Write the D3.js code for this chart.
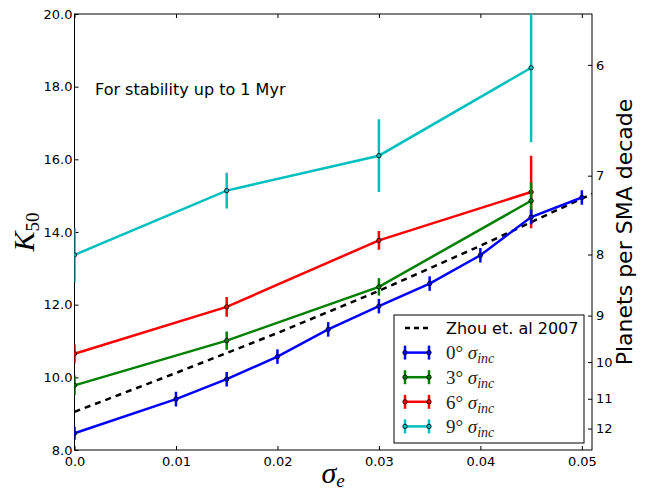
<!DOCTYPE html>
<html>
<head>
<meta charset="utf-8">
<script src="https://cdn.jsdelivr.net/npm/d3@7"></script>
<style>
  body { margin: 0; background: #fff; }
  svg { display: block; font-family: "DejaVu Sans", sans-serif; }
</style>
</head>
<body>
<div id="chart"></div>
<script>
// sigma_e sampled for the 0 deg run, and the coarser grid for the others
const eccFine = [0, 0.01, 0.015, 0.02, 0.025, 0.03, 0.035, 0.04, 0.045, 0.05];
const eccCoarse = [0, 0.015, 0.03, 0.045];

// K50 values and error half-widths
const k0 = [8.46, 9.40, 9.95, 10.57, 11.32, 11.96, 12.58, 13.36, 14.41, 14.95];
const err0 = [0.18, 0.2, 0.2, 0.2, 0.2, 0.2, 0.2, 0.2, 0.2, 0.2];
const k3 = [9.78, 11.01, 12.49, 14.86];
const err3 = [0.27, 0.25, 0.24, 0.5];
const k6 = [10.65, 11.94, 13.77, 15.10];
const err6 = [0.26, 0.27, 0.26, 1.0];
const k9 = [13.37, 15.14, 16.10, 18.52];
const err9 = [0.75, 0.49, 1.0, 2.05];

// Zhou et al. 2007 curve
const zhouEcc = [0, 0.01, 0.02, 0.03, 0.04, 0.05, 0.051];
const zhouK = [9.05, 10.12, 11.22, 12.38, 13.62, 14.92, 15.05];

// ticks
const xTicks = [0, 0.01, 0.02, 0.03, 0.04, 0.05];
const yTicks = [8, 10, 12, 14, 16, 18, 20];
// right axis: planets per SMA decade, placed at the K50 they correspond to
const planetTicks = [6, 7, 8, 9, 10, 11, 12];
const planetTickK = [18.60, 15.55, 13.38, 11.70, 10.42, 9.41, 8.59];

const series = [
  { deg: 0, x: eccFine, k: k0, err: err0, color: "#0000ff" },
  { deg: 3, x: eccCoarse, k: k3, err: err3, color: "#008000" },
  { deg: 6, x: eccCoarse, k: k6, err: err6, color: "#ff0000" },
  { deg: 9, x: eccCoarse, k: k9, err: err9, color: "#00bfbf" }
];

const W = 649, H = 493;
const margin = { top: 14, right: 57, bottom: 43, left: 74.5 };
const width = W - margin.left - margin.right,
      height = H - margin.top - margin.bottom;

const svg = d3.select("#chart").append("svg")
  .attr("width", W).attr("height", H);

svg.append("defs").append("clipPath").attr("id", "plotclip")
  .append("rect").attr("width", width).attr("height", height);

const g = svg.append("g")
  .attr("transform", `translate(${margin.left},${margin.top})`);

const x = d3.scaleLinear().domain([0, 0.051]).range([0, width]);
const y = d3.scaleLinear().domain([8, 20]).range([height, 0]);

// axes (ticks point inward, like old matplotlib)
const xFmt = d => d === 0 ? "0.0" : d.toFixed(2);
g.append("g")
  .attr("transform", `translate(0,${height})`)
  .call(d3.axisBottom(x).tickValues(xTicks).tickFormat(xFmt)
    .tickSizeInner(-4).tickSizeOuter(0).tickPadding(7));
g.append("g")
  .call(d3.axisTop(x).tickValues(xTicks).tickFormat("")
    .tickSizeInner(-4).tickSizeOuter(0));
g.append("g")
  .call(d3.axisLeft(y).tickValues(yTicks).tickFormat(d3.format(".1f"))
    .tickSizeInner(-4).tickSizeOuter(0).tickPadding(2));
g.append("g")
  .attr("transform", `translate(${width},0)`)
  .call(d3.axisRight(y).tickValues(planetTickK)
    .tickFormat((d, i) => planetTicks[i])
    .tickSizeInner(-4).tickSizeOuter(0).tickPadding(4));

g.selectAll(".domain").remove();
g.selectAll(".tick text").attr("font-size", 13).attr("fill", "#000")
  .attr("font-family", "DejaVu Sans");
g.selectAll(".tick line").attr("stroke", "#000");

// spines
g.append("rect")
  .attr("width", width).attr("height", height)
  .attr("fill", "none").attr("stroke", "#000").attr("stroke-width", 1);

const plot = g.append("g").attr("clip-path", "url(#plotclip)");

// Zhou line
const line = d3.line().x(d => x(d[0])).y(d => y(d[1]));
plot.append("path")
  .datum(zhouEcc.map((e, i) => [e, zhouK[i]]))
  .attr("d", line)
  .attr("fill", "none").attr("stroke", "#000")
  .attr("stroke-width", 2.5).attr("stroke-dasharray", "6,5");

// data series, drawn so the 0 deg run ends up on top
series.slice().reverse().forEach(s => {
  const pts = s.x.map((e, i) => ({ e, k: s.k[i], err: s.err[i] }));
  const sg = plot.append("g");
  sg.append("path")
    .datum(pts.map(p => [p.e, p.k]))
    .attr("d", line)
    .attr("fill", "none").attr("stroke", s.color).attr("stroke-width", 2.5);
  sg.selectAll("line.err").data(pts).join("line")
    .attr("class", "err")
    .attr("x1", p => x(p.e)).attr("x2", p => x(p.e))
    .attr("y1", p => y(p.k - p.err)).attr("y2", p => y(p.k + p.err))
    .attr("stroke", s.color).attr("stroke-width", 2.5);
  sg.selectAll("circle").data(pts).join("circle")
    .attr("cx", p => x(p.e)).attr("cy", p => y(p.k))
    .attr("r", 2.2)
    .attr("fill", s.color).attr("stroke", "#000").attr("stroke-width", 0.8);
});

// annotation
g.append("text")
  .attr("x", 95 - margin.left).attr("y", 95 - margin.top)
  .attr("font-size", 16)
  .text("For stability up to 1 Myr");

// axis labels (math text in a serif face)
const serif = "'Liberation Serif', 'DejaVu Serif', serif";
const yLab = svg.append("text")
  .attr("transform", "translate(34,232) rotate(-90)")
  .attr("text-anchor", "middle")
  .style("font-family", serif).attr("font-size", 30);
yLab.append("tspan").attr("font-style", "italic").text("K");
yLab.append("tspan").attr("font-size", 19).attr("dy", 5).text("50");

const xLab = svg.append("text")
  .attr("x", 333).attr("y", 483)
  .attr("text-anchor", "middle")
  .style("font-family", serif).attr("font-size", 30).attr("font-style", "italic");
xLab.append("tspan").text("σ");
xLab.append("tspan").attr("font-size", 19).attr("dy", 4).text("e");

svg.append("text")
  .attr("transform", "translate(632,232) rotate(-90)")
  .attr("text-anchor", "middle")
  .attr("font-size", 22)
  .text("Planets per SMA decade");

// legend
const lg = svg.append("g").attr("transform", "translate(394,315)");
lg.append("rect").attr("width", 190).attr("height", 128)
  .attr("fill", "#fff").attr("stroke", "#000").attr("stroke-width", 1);

const rowY = i => 13 + i * 24.6;
lg.append("line")
  .attr("x1", 11).attr("x2", 35).attr("y1", rowY(0)).attr("y2", rowY(0))
  .attr("stroke", "#000").attr("stroke-width", 2.5).attr("stroke-dasharray", "5,4");
lg.append("text").attr("x", 52).attr("y", rowY(0)).attr("dy", "0.36em")
  .attr("font-size", 16).text("Zhou et. al 2007");

series.forEach((s, i) => {
  const ry = rowY(i + 1);
  const row = lg.append("g");
  row.append("line").attr("x1", 11).attr("x2", 35).attr("y1", ry).attr("y2", ry)
    .attr("stroke", s.color).attr("stroke-width", 2.5);
  [11, 35].forEach(hx => {
    row.append("line").attr("x1", hx).attr("x2", hx)
      .attr("y1", ry - 7).attr("y2", ry + 7)
      .attr("stroke", s.color).attr("stroke-width", 2.5);
    row.append("circle").attr("cx", hx).attr("cy", ry).attr("r", 2.2)
      .attr("fill", s.color).attr("stroke", "#000").attr("stroke-width", 0.8);
  });
  const t = row.append("text").attr("x", 52).attr("y", ry).attr("dy", "0.36em")
    .style("font-family", serif).attr("font-size", 19).attr("fill", "#222");
  t.append("tspan").text(`${s.deg}° `);
  t.append("tspan").attr("font-style", "italic").text("σ");
  t.append("tspan").attr("font-style", "italic").attr("font-size", 14)
    .attr("dy", 4).text("inc");
});
</script>
</body>
</html>
